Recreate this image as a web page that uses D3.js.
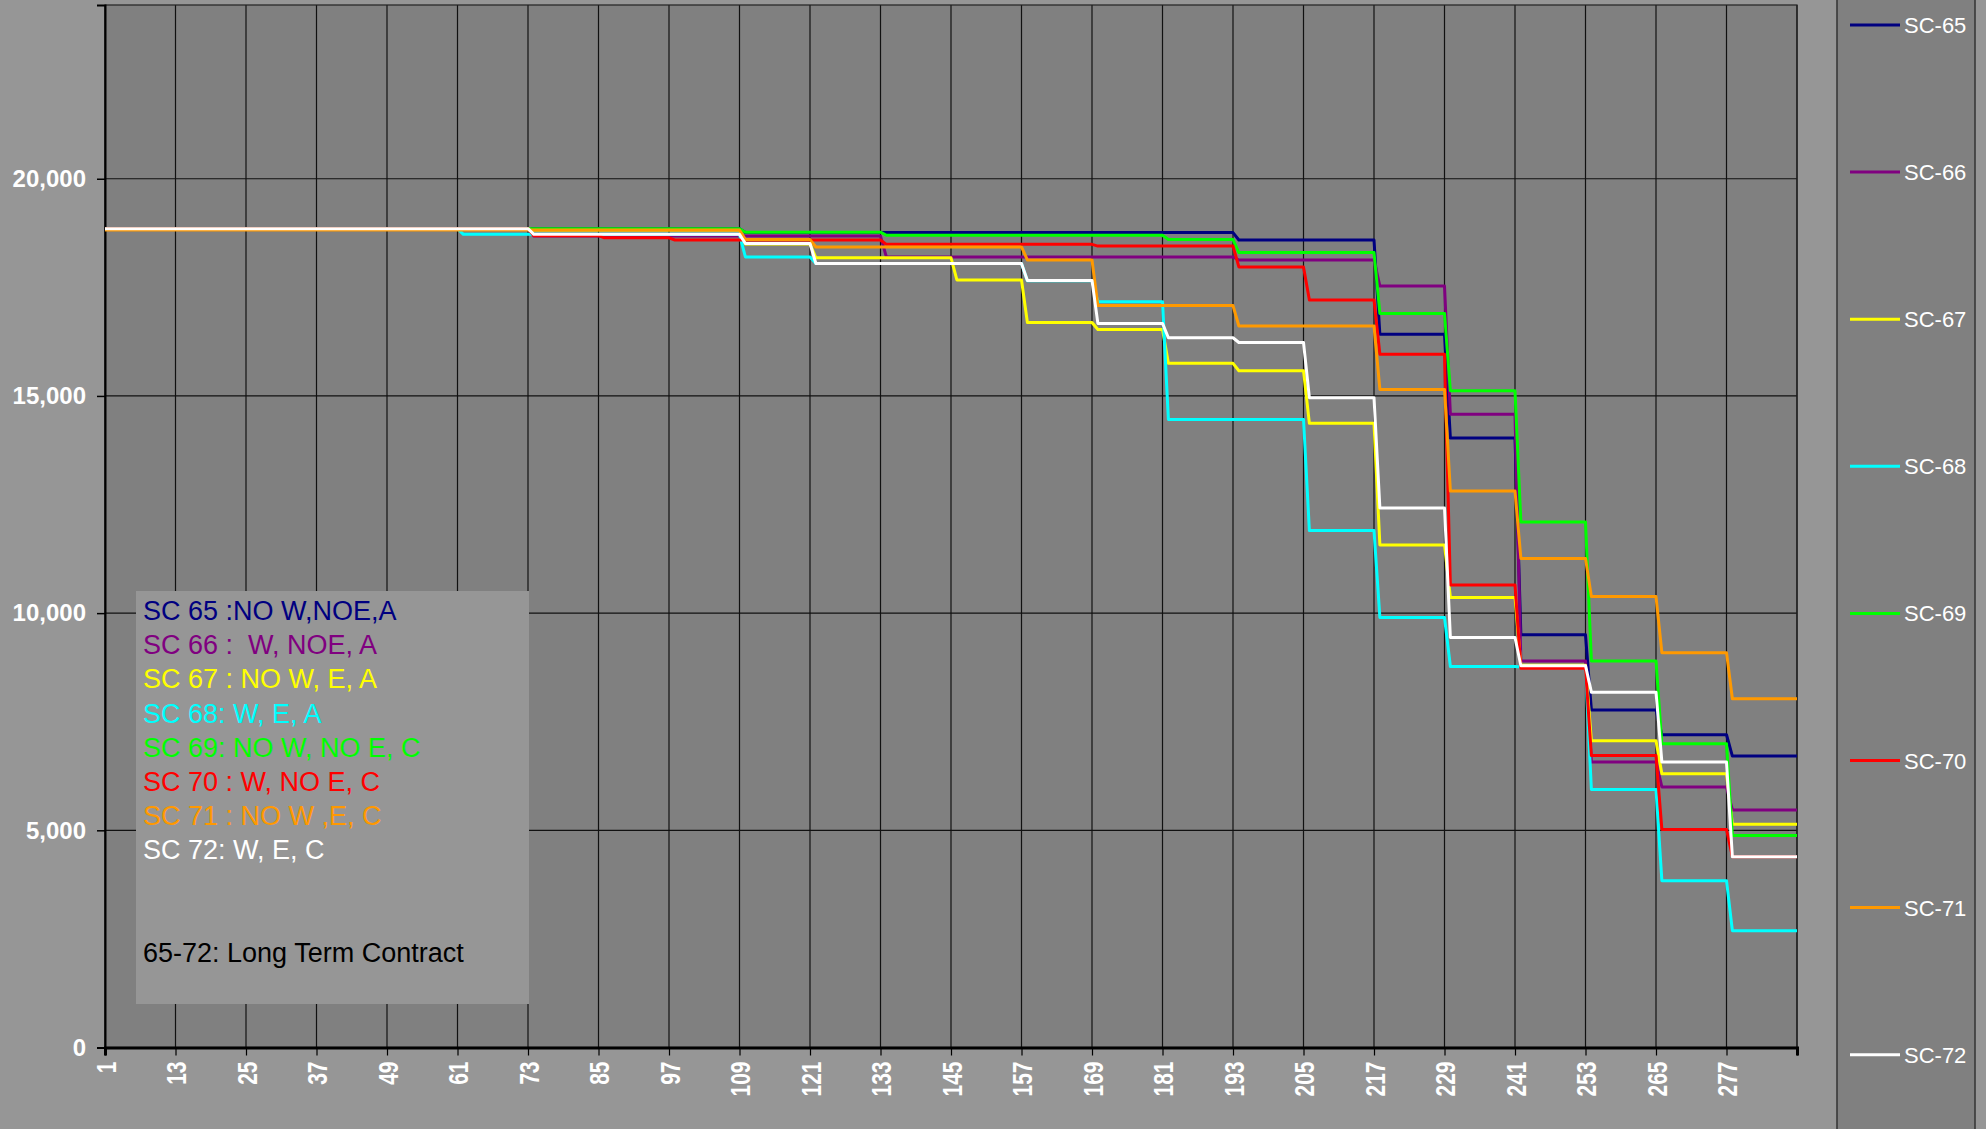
<!DOCTYPE html>
<html><head><meta charset="utf-8">
<script src="https://cdn.jsdelivr.net/npm/d3@7"></script>
<style>
html,body{margin:0;padding:0;background:#969696;}
svg{display:block;font-family:"Liberation Sans",Arial,sans-serif;}
</style></head>
<body><svg id="c" width="1986" height="1129"></svg>
<script>
// Category axis: months 1..289, labelled every 12
const categoryCount = 289;
const tickLabels = [1,13,25,37,49,61,73,85,97,109,121,133,145,157,169,181,193,205,217,229,241,253,265,277];
const yTicks = [0,5000,10000,15000,20000];
const seriesNames = ["SC-65","SC-66","SC-67","SC-68","SC-69","SC-70","SC-71","SC-72"];
const seriesColors = ["#000080","#800080","#FFFF00","#00FFFF","#00FF00","#FF0000","#FF9900","#FFFFFF"];
// Yearly (12-period) plateau values, block k covers months 12k+2 .. 12k+13
const sc65 = [18850,18850,18850,18850,18850,18850,18850,18850,18850,18760,18760,18760,18760,18760,18760,18760,18590,18590,16420,14030,9500,7770,7200,6710];
const sc66 = [18850,18850,18850,18850,18850,18850,18680,18680,18680,18680,18680,18200,18200,18200,18200,18200,18130,18130,17530,14580,8900,6570,6000,5470];
const sc67 = [18850,18850,18850,18850,18850,18850,18820,18820,18820,18500,18180,18180,17670,16690,16530,15750,15580,14370,11570,10360,8800,7060,6300,5140];
const sc68 = [18850,18850,18850,18850,18850,18720,18720,18720,18720,18200,18050,18050,18050,17650,17170,14460,14460,11900,9900,8770,8760,5940,3840,2690];
const sc69 = [18850,18850,18850,18850,18850,18850,18850,18850,18850,18770,18770,18700,18700,18700,18700,18600,18300,18300,16900,15120,12100,8900,6990,4880];
const sc70 = [18850,18850,18850,18850,18850,18850,18690,18640,18590,18590,18590,18490,18490,18490,18450,18450,17970,17210,15960,10650,8730,6720,5020,4390];
const sc71 = [18820,18820,18820,18820,18820,18820,18820,18820,18820,18600,18430,18430,18430,18130,17080,17080,16610,16610,15150,12810,11260,10380,9090,8030];
const sc72 = [18850,18850,18850,18850,18850,18850,18720,18720,18720,18510,18050,18050,18050,17660,16670,16340,16230,14960,12420,9440,8790,8180,6570,4390];
const noteLines = ["SC 65 :NO W,NOE,A","SC 66 :  W, NOE, A","SC 67 : NO W, E, A","SC 68: W, E, A","SC 69: NO W, NO E, C","SC 70 : W, NO E, C","SC 71 : NO W ,E, C","SC 72: W, E, C"];
const noteFooter = "65-72: Long Term Contract";

const blocks = [sc65,sc66,sc67,sc68,sc69,sc70,sc71,sc72];
const months = d3.range(1, categoryCount + 1);
const series = blocks.map((b, i) => ({
  name: seriesNames[i], color: seriesColors[i],
  values: months.map(m => ({m, v: b[m === 1 ? 0 : Math.floor((m - 2) / 12)]}))
}));

const svg = d3.select("#c");
const L = 105, R = 1797, T = 5, B = 1047.5;
const x = d3.scaleLinear().domain([1, categoryCount]).range([L, R]);
const y = d3.scaleLinear().domain([0, 24000]).range([B, T]);

svg.append("rect").attr("width",1986).attr("height",1129).attr("fill","#969696");
svg.append("rect").attr("x",L).attr("y",T).attr("width",R-L).attr("height",B-T).attr("fill","#808080");

// gridlines
svg.append("g").selectAll("line").data(tickLabels.concat([categoryCount])).join("line")
  .attr("x1",d=>x(d)).attr("x2",d=>x(d)).attr("y1",T).attr("y2",B)
  .attr("stroke","#111").attr("stroke-width",1.2);
svg.append("g").selectAll("line").data(yTicks.filter(d=>d>0)).join("line")
  .attr("x1",L).attr("x2",R).attr("y1",d=>y(d)).attr("y2",d=>y(d))
  .attr("stroke","#111").attr("stroke-width",1.2);
svg.append("rect").attr("x",L).attr("y",T).attr("width",R-L).attr("height",B-T)
  .attr("fill","none").attr("stroke","#222").attr("stroke-width",1.2);

// y axis
const yAxis = svg.append("g").attr("transform",`translate(${L},0)`)
  .call(d3.axisLeft(y).tickValues(yTicks).tickSize(8).tickPadding(11).tickFormat(d3.format(",")));
yAxis.select(".domain").attr("stroke","#000").attr("stroke-width",2);
yAxis.selectAll(".tick line").attr("stroke","#000").attr("stroke-width",1.5);
yAxis.selectAll("text").attr("fill","#fff").attr("font-size",24).attr("font-weight","bold")
  .attr("font-family","'Liberation Sans',Arial,sans-serif");

// x axis
const xAxis = svg.append("g").attr("transform",`translate(0,${B})`)
  .call(d3.axisBottom(x).tickValues(tickLabels.concat([categoryCount])).tickSize(8).tickFormat(d => d === categoryCount ? "" : d));
xAxis.select(".domain").attr("stroke","#000").attr("stroke-width",3);
xAxis.selectAll(".tick line").attr("stroke","#000").attr("stroke-width",1.2);
xAxis.selectAll("text")
  .attr("fill","#fff").attr("font-size",21).attr("font-weight","bold")
  .attr("font-family","'Liberation Sans',Arial,sans-serif")
  .attr("text-anchor","end").attr("dy",null).attr("y",null)
  .attr("transform","translate(0,14) rotate(-90) scale(1,1.35)")
  .attr("dominant-baseline","central");

// lines
const line = d3.line().x(d=>x(d.m)).y(d=>y(d.v));
svg.append("g").selectAll("path").data(series).join("path")
  .attr("d",d=>line(d.values)).attr("fill","none")
  .attr("stroke",d=>d.color).attr("stroke-width",3).attr("stroke-linejoin","round");

// note box
const note = svg.append("g");
note.append("rect").attr("x",136).attr("y",591).attr("width",393).attr("height",413).attr("fill","#969696");
note.selectAll("text.n").data(noteLines).join("text").attr("class","n")
  .attr("x",143).attr("y",(d,i)=>620+i*34.2).attr("fill",(d,i)=>seriesColors[i])
  .attr("font-size",27).attr("xml:space","preserve").style("white-space","pre").text(d=>d);
note.append("text").attr("x",143).attr("y",962).attr("fill","#000").attr("font-size",27).text(noteFooter);

// legend
const leg = svg.append("g");
leg.append("rect").attr("x",1837).attr("y",-5).attr("width",138).attr("height",1140)
  .attr("fill","#808080").attr("stroke","#333").attr("stroke-width",1.5);
const li = leg.selectAll("g.li").data(series).join("g").attr("class","li")
  .attr("transform",(d,i)=>`translate(0,${25+i*147.1})`);
li.append("line").attr("x1",1850).attr("x2",1900).attr("stroke",d=>d.color).attr("stroke-width",3);
li.append("text").attr("x",1904).attr("y",8).attr("fill","#fff").attr("font-size",22).text(d=>d.name);
</script></body></html>
